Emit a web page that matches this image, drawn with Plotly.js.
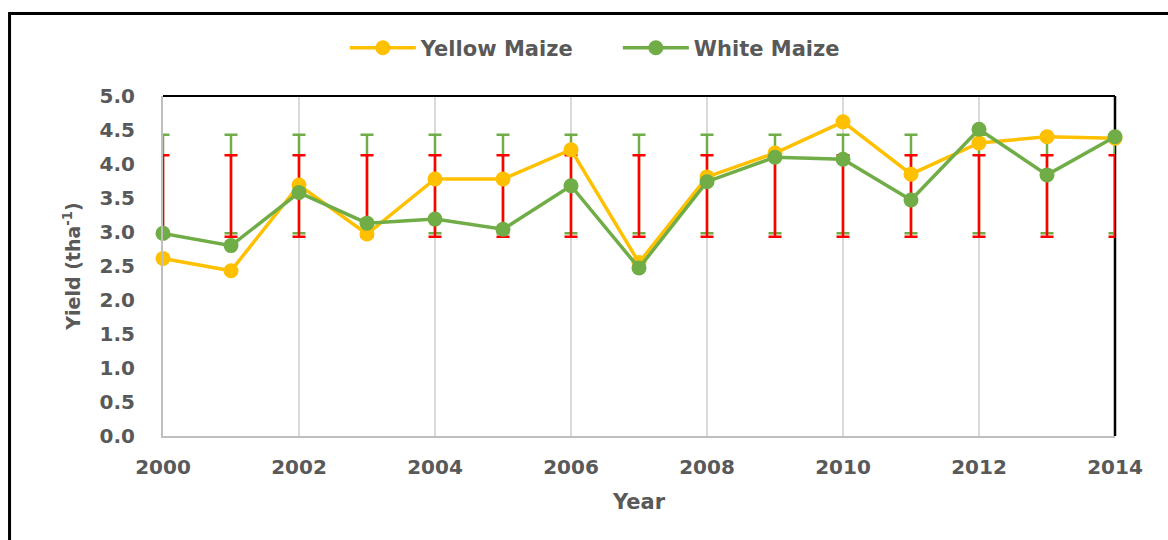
<!DOCTYPE html>
<html>
<head>
<meta charset="utf-8">
<script src="https://cdn.plot.ly/plotly-3.0.1.min.js"></script>
<style>
  html, body { margin: 0; padding: 0; background: #ffffff; }
  #chart { width: 1168px; height: 540px; }
</style>
</head>
<body>
<div id="chart"></div>
<script>
// ---- data ----
const years = [2000, 2001, 2002, 2003, 2004, 2005, 2006, 2007, 2008, 2009, 2010, 2011, 2012, 2013, 2014];
const yellowMaize = [2.61, 2.43, 3.69, 2.97, 3.78, 3.78, 4.21, 2.55, 3.81, 4.16, 4.62, 3.85, 4.31, 4.40, 4.38];
const whiteMaize  = [2.98, 2.80, 3.58, 3.13, 3.19, 3.04, 3.68, 2.47, 3.74, 4.10, 4.07, 3.47, 4.51, 3.84, 4.40];
// constant mean ± SD bands drawn as error bars at every year
const yellowMean = 3.53, yellowSD = 0.60;
const whiteMean  = 3.705, whiteSD = 0.725;
const seriesNames = ['Yellow Maize', 'White Maize'];

const cYellow = '#FFC000', cGreen = '#70AD47', cRed = '#FF0000';
const txt = '#595959';

const traces = [
  {
    x: years, y: years.map(() => whiteMean), type: 'scatter', mode: 'markers',
    marker: { size: 1, opacity: 0 }, showlegend: false, hoverinfo: 'skip', cliponaxis: true,
    error_y: { type: 'data', array: years.map(() => whiteSD), color: cGreen, thickness: 2.5, width: 6.5 }
  },
  {
    x: years, y: years.map(() => yellowMean), type: 'scatter', mode: 'markers',
    marker: { size: 1, opacity: 0 }, showlegend: false, hoverinfo: 'skip', cliponaxis: true,
    error_y: { type: 'data', array: years.map(() => yellowSD), color: cRed, thickness: 2.5, width: 6.5 }
  },
  {
    x: years, y: yellowMaize, name: seriesNames[0], type: 'scatter', mode: 'lines+markers',
    line: { color: cYellow, width: 3.5 }, marker: { color: cYellow, size: 15 }, cliponaxis: false
  },
  {
    x: years, y: whiteMaize, name: seriesNames[1], type: 'scatter', mode: 'lines+markers',
    line: { color: cGreen, width: 3.5 }, marker: { color: cGreen, size: 15 }, cliponaxis: false
  }
];

const layout = {
  width: 1168, height: 540,
  margin: { l: 163, r: 53, t: 96, b: 104 },
  paper_bgcolor: '#ffffff', plot_bgcolor: '#ffffff',
  font: { family: 'DejaVu Sans, Verdana, sans-serif', color: txt, size: 18 },
  showlegend: true,
  legend: {
    orientation: 'h', x: 0.191, xanchor: 'left', y: 1.141, yanchor: 'middle',
    font: { family: 'DejaVu Sans, sans-serif', size: 21, color: txt, weight: 'bold' },
    itemwidth: 66, entrywidth: 192, entrywidthmode: 'pixels', bgcolor: 'rgba(0,0,0,0)'
  },
  xaxis: {
    range: [2000, 2014], tick0: 2000, dtick: 2,
    showgrid: true, gridcolor: '#d9d9d9', gridwidth: 2,
    showline: true, linecolor: '#bfbfbf', linewidth: 2,
    zeroline: false, ticks: '', ticklabelstandoff: 12,
    tickfont: { family: 'DejaVu Sans, sans-serif', size: 20, color: txt, weight: 'bold' },
    title: { text: 'Year', standoff: 16, font: { family: 'DejaVu Sans, sans-serif', size: 21, color: txt, weight: 'bold' } }
  },
  yaxis: {
    range: [0, 5], tick0: 0, dtick: 0.5, tickformat: '.1f',
    showgrid: false, zeroline: false,
    showline: true, linecolor: '#bfbfbf', linewidth: 2,
    ticks: '', ticklabelstandoff: 22,
    tickfont: { family: 'DejaVu Sans, sans-serif', size: 20, color: txt, weight: 'bold' },
    title: { text: 'Yield (tha<sup>-1</sup>)', standoff: 14, font: { family: 'DejaVu Sans, sans-serif', size: 19, color: txt, weight: 'bold' } }
  },
  shapes: [
    // outer frame
    { type: 'rect', xref: 'paper', yref: 'paper', x0: -0.1612, x1: 1.2, y0: -0.5, y1: 1.2425,
      line: { color: '#000000', width: 3 }, fillcolor: 'rgba(0,0,0,0)', layer: 'below' },
    // black top and right plot borders
    { type: 'line', xref: 'paper', yref: 'paper', x0: 0, x1: 1, y0: 1, y1: 1, line: { color: '#000000', width: 2 } },
    { type: 'line', xref: 'paper', yref: 'paper', x0: 1, x1: 1, y0: 0, y1: 1, line: { color: '#000000', width: 2.5 }, layer: 'below' }
  ]
};

Plotly.newPlot('chart', traces, layout, { displayModeBar: false, staticPlot: true });
</script>
</body>
</html>
